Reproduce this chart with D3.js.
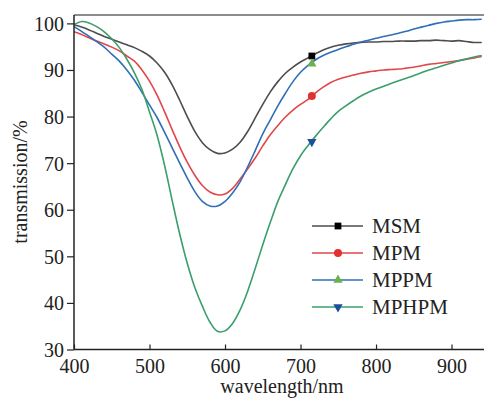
<!DOCTYPE html>
<html>
<head>
<meta charset="utf-8">
<script src="https://cdn.jsdelivr.net/npm/d3@7"></script>
<style>
  body { margin: 0; background: #fff; }
  svg { display: block; font-family: "Liberation Serif", "DejaVu Serif", serif; }
</style>
</head>
<body>
<svg id="chart" width="484" height="399"></svg>
<script>
// wavelength grid (nm)
const wavelengths = d3.range(400, 950, 10);

const seriesNames = ["MSM", "MPM", "MPPM", "MPHPM"];

const msm = [99.7, 99.2, 98.6, 97.9, 97.2, 96.6, 96.0, 95.4, 94.8, 94.0,
  93.0, 91.5, 89.5, 86.8, 83.5, 80.0, 76.8, 74.4, 72.9, 72.1,
  72.2, 73.0, 74.5, 76.8, 79.7, 82.6, 85.3, 87.5, 89.3, 90.6,
  91.7, 92.6, 93.5, 94.3, 94.9, 95.3, 95.6, 95.8, 95.9, 96.0,
  96.0, 96.1, 96.1, 96.2, 96.2, 96.2, 96.3, 96.3, 96.4, 96.3,
  96.2, 96.3, 96.1, 95.9, 95.9];

const mpm = [98.2, 97.6, 96.9, 96.2, 95.6, 94.9, 94.1, 93.0, 91.9, 90.0,
  87.6, 84.6, 81.0, 77.2, 73.5, 70.2, 67.4, 65.2, 63.8, 63.2,
  63.4, 64.6, 66.6, 68.8, 71.1, 73.7, 76.1, 78.1, 79.9, 81.4,
  82.6, 83.7, 85.1, 86.3, 87.3, 88.0, 88.5, 88.9, 89.3, 89.6,
  89.8, 90.0, 90.1, 90.2, 90.4, 90.6, 90.9, 91.2, 91.4, 91.6,
  91.8, 92.0, 92.3, 92.6, 92.9];

const mppm = [99.3, 98.3, 97.2, 96.1, 94.9, 93.4, 91.9, 90.0, 87.8, 85.2,
  82.5, 79.8, 76.6, 73.3, 70.0, 66.8, 63.9, 61.8, 60.8, 60.8,
  61.8, 63.6, 66.0, 69.2, 72.7, 76.3, 79.3, 82.3, 85.0, 87.5,
  89.5, 91.0, 92.2, 93.1, 93.8, 94.4, 95.0, 95.5, 96.0, 96.4,
  96.8, 97.2, 97.5, 97.9, 98.3, 98.8, 99.2, 99.6, 100.0, 100.3,
  100.5, 100.7, 100.8, 100.8, 100.9];

const mphpm = [99.7, 100.4, 100.1, 99.3, 98.2, 96.7, 94.8, 92.3, 89.4, 85.8,
  81.0, 76.0, 69.5, 62.0, 54.8, 48.5, 43.3, 39.3, 35.9, 33.9,
  34.0, 35.6, 38.5, 42.5, 47.4, 52.5, 57.3, 61.8, 65.4, 68.8,
  71.6, 73.8, 75.8, 77.7, 79.5, 81.1, 82.3, 83.4, 84.4, 85.2,
  85.9, 86.5, 87.1, 87.7, 88.2, 88.8, 89.4, 90.0, 90.5, 91.0,
  91.5, 92.0, 92.4, 92.8, 93.1];

// one marker per curve, at 715 nm
const markerWavelength = 715;
const markerValues = [93.0, 84.4, 91.3, 74.6];

const xTicks = [400, 500, 600, 700, 800, 900];
const yTicks = [30, 40, 50, 60, 70, 80, 90, 100];

const lineColors = ["#4d4d4d", "#e2464a", "#2f6fb7", "#3a9f6b"];
const markerColors = ["#000000", "#e03030", "#6cb24a", "#1f4f9c"];
const markerShapes = [d3.symbolSquare, d3.symbolCircle, d3.symbolTriangle, d3.symbolTriangle];
const markerSizes = [46, 50, 38, 38];

const allSeries = [msm, mpm, mppm, mphpm];

const svg = d3.select("#chart");
const mLeft = 74, mRight = 484, mTop = 15, mBottom = 349.5;

const x = d3.scaleLinear().domain([400, 943]).range([mLeft, mRight]);
const y = d3.scaleLinear().domain([30, 101.8]).range([mBottom, mTop]);

svg.append("clipPath").attr("id", "clip")
  .append("rect")
  .attr("x", mLeft).attr("y", mTop)
  .attr("width", mRight - mLeft).attr("height", mBottom - mTop);

// top frame
svg.append("line")
  .attr("x1", mLeft).attr("x2", mRight)
  .attr("y1", mTop).attr("y2", mTop)
  .attr("stroke", "#666").attr("stroke-width", 1.5);

// curves
const line = d3.line()
  .x((d, i) => x(wavelengths[i]))
  .y(d => y(d))
  .curve(d3.curveCatmullRom.alpha(0.5));

const plot = svg.append("g").attr("clip-path", "url(#clip)");
allSeries.forEach((s, i) => {
  plot.append("path")
    .attr("d", line(s))
    .attr("fill", "none")
    .attr("stroke", lineColors[i])
    .attr("stroke-width", 1.6);
});

function symbolPath(i) {
  return d3.symbol().type(markerShapes[i]).size(markerSizes[i])();
}

// markers on curves
markerValues.forEach((v, i) => {
  const rot = i === 3 ? 180 : 0;
  svg.append("path")
    .attr("d", symbolPath(i))
    .attr("transform", `translate(${x(markerWavelength)},${y(v)}) rotate(${rot})`)
    .attr("fill", markerColors[i]);
});

// axes
const xAxis = svg.append("g")
  .attr("transform", `translate(0,${mBottom})`)
  .call(d3.axisBottom(x).tickValues(xTicks).tickSizeInner(-5).tickSizeOuter(0).tickPadding(12));
const yAxis = svg.append("g")
  .attr("transform", `translate(${mLeft},0)`)
  .call(d3.axisLeft(y).tickValues(yTicks).tickSizeInner(7).tickSizeOuter(0).tickPadding(3));

[xAxis, yAxis].forEach(a => {
  a.select(".domain").attr("stroke", "#222").attr("stroke-width", 1.5);
  a.selectAll(".tick line").attr("stroke", "#222").attr("stroke-width", 1.2);
  a.selectAll(".tick text")
    .attr("fill", "#222")
    .style("font-family", "Liberation Serif, serif")
    .style("font-size", "20px");
});
xAxis.select(".domain").attr("d", `M${mLeft},0H${mRight}`);
yAxis.select(".domain").attr("d", `M0,${mBottom}V${mTop}`);
xAxis.selectAll(".tick text").attr("dy", "0.55em");
yAxis.selectAll(".tick text").attr("dy", "0.35em");

// axis titles
svg.append("text")
  .attr("x", 282).attr("y", 393)
  .attr("text-anchor", "middle")
  .attr("fill", "#222")
  .style("font-size", "20px")
  .text("wavelength/nm");

svg.append("text")
  .attr("transform", "translate(27,182) rotate(-90)")
  .attr("text-anchor", "middle")
  .attr("fill", "#222")
  .style("font-size", "20px")
  .text("transmission/%");

// legend
const legend = svg.append("g");
seriesNames.forEach((name, i) => {
  const ly = 226 + i * 27;
  legend.append("line")
    .attr("x1", 312).attr("x2", 363)
    .attr("y1", ly).attr("y2", ly)
    .attr("stroke", lineColors[i]).attr("stroke-width", 1.6);
  legend.append("path")
    .attr("d", symbolPath(i))
    .attr("transform", `translate(338,${ly}) rotate(${i === 3 ? 180 : 0})`)
    .attr("fill", markerColors[i]);
  legend.append("text")
    .attr("x", 372).attr("y", ly)
    .attr("dy", "0.35em")
    .attr("fill", "#222")
    .style("font-size", "21px")
    .text(name);
});
</script>
</body>
</html>
